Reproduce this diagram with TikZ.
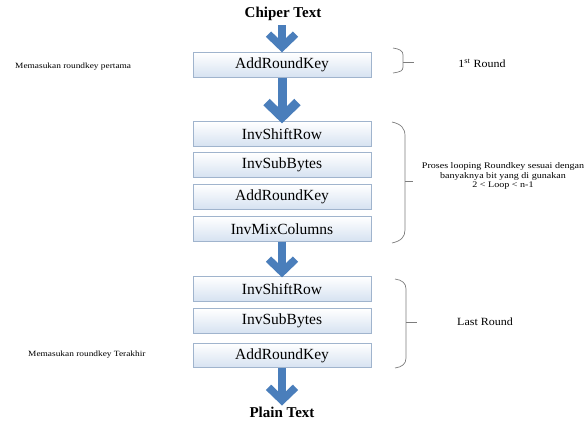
\documentclass[tikz,border=0pt]{standalone}
\usepackage{fontspec}
\setmainfont{Liberation Serif}
\newfontfamily\notefont[FakeStretch=1.17]{Liberation Serif}
\newfontfamily\roundfont[FakeStretch=1.09]{Liberation Serif}
\usetikzlibrary{arrows.meta}
\definecolor{arrowblue}{RGB}{74,126,187}
\definecolor{boxedge}{RGB}{160,180,205}
\definecolor{boxlow}{RGB}{214,226,241}
\definecolor{bracegray}{RGB}{125,125,125}
\begin{document}
\begin{tikzpicture}[x=1pt,y=-1pt,
  stage/.style={draw=boxedge, line width=0.8pt, top color=white, bottom color=boxlow,
    minimum width=178pt, minimum height=24.5pt, inner sep=0pt, font=\fontsize{15.5}{17}\selectfont},
  title/.style={font=\fontsize{15}{16}\selectfont\bfseries, inner sep=0pt},
  note/.style={font=\notefont\fontsize{8}{8.2}\selectfont, inner sep=0pt, align=center},
  loopnote/.style={font=\notefont\fontsize{8.6}{9.6}\selectfont, inner sep=0pt, align=center},
  roundlbl/.style={font=\roundfont\fontsize{11}{12}\selectfont, inner sep=0pt},
  flow/.style={arrowblue, line width=7.5pt, -{Straight Barb[length=13pt,width=27pt]}},
  bigflow/.style={arrowblue, line width=9pt, -{Straight Barb[length=15pt,width=31pt]}},
  brace/.style={draw=bracegray, line width=0.7pt}
]
\useasboundingbox (0,0) rectangle (588,421);

% titles
\node[title] (cipher) at (283,14) {Chiper Text};
\node[title] (plain) at (282,412) {Plain Text};

% stages
\node[stage] (ark1) at (282,65) {AddRoundKey};
\node[stage] (isr1) at (282,134) {InvShiftRow};
\node[stage] (isb1) at (282,165) {InvSubBytes};
\node[stage] (ark2) at (282,197) {AddRoundKey};
\node[stage] (imc)  at (282,229) {InvMixColumns};
\node[stage] (isr2) at (282,289) {InvShiftRow};
\node[stage] (isb2) at (282,321) {InvSubBytes};
\node[stage] (ark3) at (282,355.5) {AddRoundKey};

% arrows
\draw[flow, shorten <=4pt] (cipher.south -| ark1.north) -- (ark1.north);
\draw[bigflow] (ark1.south) -- ([yshift=-2pt]isr1.north);
\draw[flow] (imc.south) -- ([yshift=-1pt]isr2.north);
\draw[flow] (ark3.south) -- ([yshift=1pt]plain.north);

% braces
\draw[brace] (393,48) .. controls (400,49) and (403,51) .. (403,55) -- (403,67)
  .. controls (403,71) and (400,72) .. (393,73);
\draw[brace] (403,62) -- (414,62);
\draw[brace] (392,122) .. controls (401,124) and (405,128) .. (405,136) -- (405,230)
  .. controls (405,237) and (401,241) .. (392,243);
\draw[brace] (405,181) -- (413,181);
\draw[brace] (395,279) .. controls (402,280) and (406,283) .. (406,289) -- (406,358)
  .. controls (406,364) and (402,367) .. (395,368);
\draw[brace] (406,322) -- (417,322);

% side labels
\node[note, anchor=west] (in1) at (15,67) {Memasukan roundkey pertama};
\node[note, anchor=west] (in2) at (28,355) {Memasukan roundkey Terakhir};
\node[roundlbl] (r1) at (482,63) {1\textsuperscript{st} Round};
\node[loopnote] (rloop) at (503,176) {Proses looping Roundkey sesuai dengan\\ banyaknya bit yang di gunakan\\ 2 {<} Loop {<} n-1};
\node[roundlbl] (rlast) at (485,322) {Last Round};
\end{tikzpicture}
\end{document}
